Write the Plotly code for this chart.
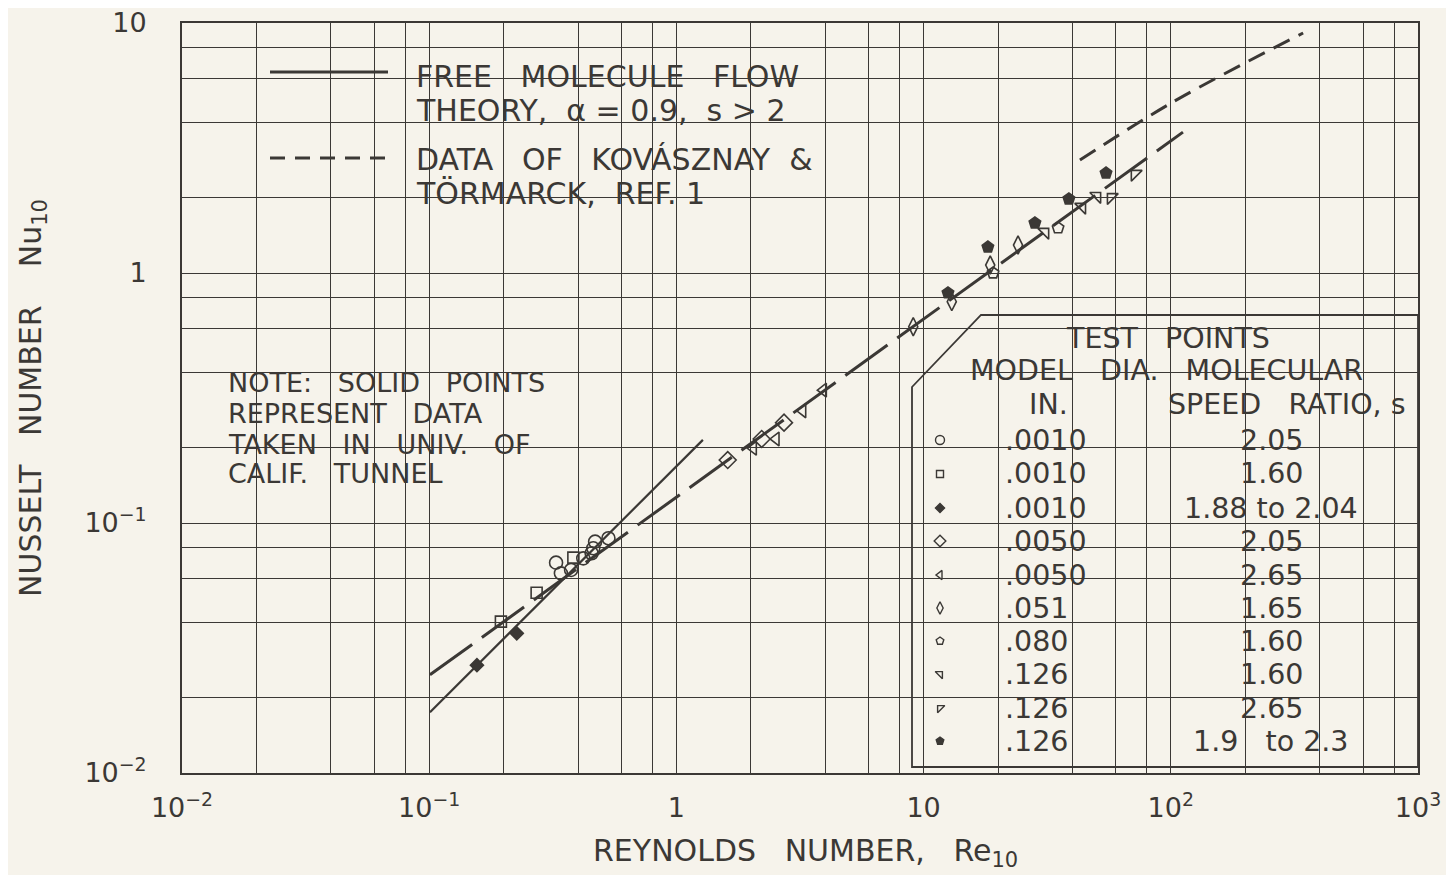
import plotly.graph_objects as go

INK = "#3b3835"
BG = "#f6f3eb"
FONT = "DejaVu Sans"

# ---------------- curves ----------------
theory_re = [0.1007, 1.28]
theory_nu = [0.0175, 0.215]
faired_re = [0.1007, 112.0]
faired_nu = [0.0247, 3.66]
kov_re = [42.9, 102.3, 343.0]
kov_nu = [2.83, 4.84, 9.12]

# ---------------- test points ----------------
re_a = [0.326, 0.341, 0.375, 0.420, 0.454, 0.461, 0.469, 0.531]
nu_a = [0.0694, 0.0629, 0.0649, 0.0722, 0.0757, 0.0792, 0.0842, 0.0869]
re_b = [0.195, 0.272, 0.383]
nu_b = [0.0403, 0.0526, 0.0727]
re_c = [0.156, 0.226]
nu_c = [0.0270, 0.0362]
re_d = [1.613, 2.213, 2.725]
nu_d = [0.1786, 0.2168, 0.2519]
re_e = [2.047, 2.529, 3.243, 3.93]
nu_e = [0.199, 0.2168, 0.281, 0.340]
re_f = [9.08, 13.0, 18.6, 24.1]
nu_f = [0.610, 0.768, 1.076, 1.294]
re_g = [19.1, 35.0]
nu_g = [1.0, 1.514]
re_h = [31.0, 43.7, 50.3]
nu_h = [1.459, 1.837, 2.03]
re_i = [57.3, 71.6]
nu_i = [2.01, 2.49]
re_j = [12.55, 18.2, 28.2, 38.7, 54.7]
nu_j = [0.832, 1.27, 1.585, 1.977, 2.51]

dia_labels = [".0010", ".0010", ".0010", ".0050", ".0050", ".051", ".080", ".126", ".126", ".126"]
speed_labels = ["2.05", "1.60", "1.88 to 2.04", "2.05", "2.65", "1.65", "1.60", "1.60", "2.65", "1.9   to 2.3"]

x_decades = [-2, -1, 0, 1, 2, 3]
y_decades = [-2, -1, 0, 1]
x_ticktext = ["10<sup>−2</sup>", "10<sup>−1</sup>", "1", "10", "10<sup>2</sup>", "10<sup>3</sup>"]
y_ticktext = ["10<sup>−2</sup>", "10<sup>−1</sup>", "1", "10"]
minor_mult = [2, 4, 6, 8]

# ---------------- styles ----------------
series = [
    (re_a, nu_a, "circle-open", 13),
    (re_b, nu_b, "square-open", 11),
    (re_c, nu_c, "diamond", 10),
    (re_d, nu_d, "diamond-open", 13),
    (re_e, nu_e, "triangle-left-open", 12),
    (re_f, nu_f, "diamond-tall-open", 13),
    (re_g, nu_g, "pentagon-open", 12),
    (re_h, nu_h, "triangle-ne-open", 12),
    (re_i, nu_i, "triangle-nw-open", 12),
    (re_j, nu_j, "pentagon", 12),
]

# page is offset by the 8px body margin of the html page
OFF = 8
W, H = 1454 - OFF, 875 - OFF
# plot area in reference-page pixels
L, R, T, B = 182, 1418, 23, 773


def px(xp):
    return (xp - L) / (R - L)


def py(yp):
    return (B - yp) / (B - T)


fig = go.Figure()

fig.add_trace(go.Scatter(x=theory_re, y=theory_nu, mode="lines",
                         line=dict(color=INK, width=2.2), hoverinfo="skip"))
fig.add_trace(go.Scatter(x=faired_re, y=faired_nu, mode="lines",
                         line=dict(color=INK, width=3, dash="52px,12px"), hoverinfo="skip"))
fig.add_trace(go.Scatter(x=kov_re, y=kov_nu, mode="lines", line_shape="spline",
                         line=dict(color=INK, width=3, dash="18px,10px"), hoverinfo="skip"))

for re, nu, sym, size in series:
    fig.add_trace(go.Scatter(
        x=re, y=nu, mode="markers",
        marker=dict(symbol=sym, size=size, color=INK,
                    line=dict(color=INK, width=1.6)),
        cliponaxis=False))

# legend keys of the table (overlay axes in plot-area fractions)
row_y = [440, 474, 508, 541, 575, 608, 641, 674, 708, 741]
for k, (re, nu, sym, size) in enumerate(series):
    fig.add_trace(go.Scatter(
        x=[px(940)], y=[py(row_y[k])], mode="markers", xaxis="x2", yaxis="y2",
        marker=dict(symbol=sym, size=max(size - 4, 7), color=INK,
                    line=dict(color=INK, width=1.4)),
        hoverinfo="skip"))

annotations = []


def text(t, xp, yp, size, xanchor="left", angle=0):
    annotations.append(dict(
        text=t, x=px(xp), y=py(yp), xref="paper", yref="paper",
        xanchor=xanchor, yanchor="middle", showarrow=False,
        font=dict(family=FONT, size=size, color=INK), textangle=angle))


# line legend
text("FREE   MOLECULE   FLOW", 414, 77, 30)
text("THEORY,  α = 0.9,  s > 2", 414, 110, 30)
text("DATA   OF   KOVÁSZNAY  &amp;", 414, 160, 30)
text("TÖRMARCK,  REF. 1", 414, 193, 30)

# note
text("NOTE:   SOLID   POINTS", 226, 382, 27)
text("REPRESENT   DATA", 226, 413, 27)
text("TAKEN   IN   UNIV.   OF", 226, 444, 27)
text("CALIF.   TUNNEL", 226, 474, 27)

# table
text("TEST   POINTS", 1168, 338, 28.5, "center")
text("MODEL   DIA.   MOLECULAR", 1166, 370, 28.5, "center")
text("IN.", 1048, 404, 28.5, "center")
text("SPEED   RATIO, s", 1287, 404, 28.5, "center")
for k in range(len(dia_labels)):
    text(dia_labels[k], 1003, row_y[k], 28.5, "left")
    text(speed_labels[k], 1271, row_y[k], 28.5, "center")

# axis titles
text("REYNOLDS   NUMBER,   Re<sub>10</sub>", 805, 852, 30, "center")
text("NUSSELT   NUMBER    Nu<sub>10</sub>", 32, 398, 30, "center", angle=-90)

shapes = [
    # areas where the grid is not drawn
    dict(type="rect", xref="paper", yref="paper", x0=px(262), x1=px(842), y0=py(208), y1=py(30),
         fillcolor=BG, line=dict(width=0), layer="between"),
    dict(type="rect", xref="paper", yref="paper", x0=px(212), x1=px(605), y0=py(505), y1=py(355),
         fillcolor=BG, line=dict(width=0), layer="between"),
    # table frame with cut corner
    dict(type="path", xref="paper", yref="paper",
         path=f"M {px(912)},{py(767)} L {px(912)},{py(387)} L {px(981)},{py(315)} "
              f"L {px(1418)},{py(315)} L {px(1418)},{py(767)} Z",
         fillcolor=BG, line=dict(color=INK, width=1.8), layer="between"),
    # legend line samples
    dict(type="line", xref="paper", yref="paper", x0=px(270), x1=px(388), y0=py(72), y1=py(72),
         line=dict(color=INK, width=2.8)),
    dict(type="line", xref="paper", yref="paper", x0=px(270), x1=px(386), y0=py(158), y1=py(158),
         line=dict(color=INK, width=2.8, dash="15px,10px")),
]

x_major = [10.0 ** e for e in x_decades]
y_major = [10.0 ** e for e in y_decades]
x_minor = [m * 10.0 ** e for e in x_decades[:-1] for m in minor_mult]
y_minor = [m * 10.0 ** e for e in y_decades[:-1] for m in minor_mult]

axis_common = dict(
    type="log", showgrid=True, gridcolor=INK, gridwidth=1.2, zeroline=False,
    showline=True, mirror=True, linecolor=INK, linewidth=2,
    ticks="outside", tickcolor=BG, tickfont=dict(family=FONT, size=27, color=INK),
    tickmode="array", ticklabeloverflow="allow", automargin=False)

fig.update_layout(
    width=W, height=H, margin=dict(l=L - OFF, r=1454 - R, t=T - OFF, b=875 - B),
    paper_bgcolor=BG, plot_bgcolor=BG, showlegend=False,
    xaxis=dict(axis_common, range=[x_decades[0], x_decades[-1]], tickvals=x_major,
               ticktext=x_ticktext, ticklen=10,
               minor=dict(tickmode="array", tickvals=x_minor, showgrid=True,
                          gridcolor=INK, gridwidth=1.2, ticks="")),
    yaxis=dict(axis_common, range=[y_decades[0], y_decades[-1]], tickvals=y_major,
               ticktext=y_ticktext, ticklen=28,
               minor=dict(tickmode="array", tickvals=y_minor, showgrid=True,
                          gridcolor=INK, gridwidth=1.2, ticks="")),
    xaxis2=dict(overlaying="x", range=[0, 1], visible=False),
    yaxis2=dict(overlaying="y", range=[0, 1], visible=False),
    annotations=annotations, shapes=shapes,
)

fig.write_html("out.html")
